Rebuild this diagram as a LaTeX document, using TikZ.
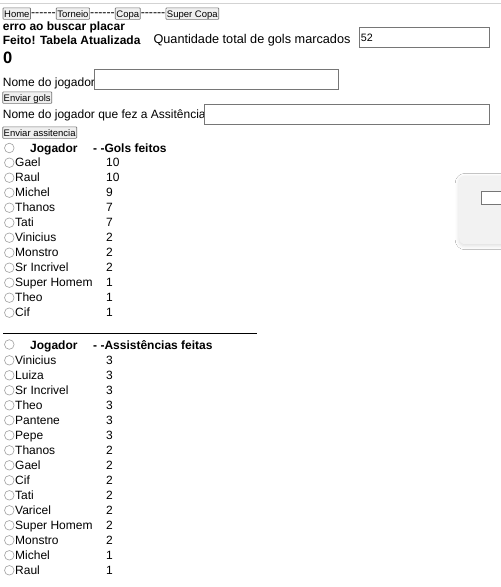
\documentclass[tikz,border=0pt]{standalone}
\usepackage{fontspec}
\setmainfont{Liberation Sans}
\usetikzlibrary{positioning,shadows.blur}

\definecolor{edgegray}{HTML}{767676}
\definecolor{btngray}{HTML}{EFEFEF}
\definecolor{rulegray}{HTML}{D3D3D3}
\definecolor{panelgray}{HTML}{F2F2F2}

\newcommand{\txtfont}{\fontsize{12}{15}\selectfont}
\newcommand{\btnfont}{\fontsize{9.5}{11}\selectfont}

\tikzset{
  txt/.style={anchor=base west, inner sep=0pt, font=\txtfont},
  boldtxt/.style={anchor=base west, inner sep=0pt, font=\txtfont\bfseries},
  btn/.style={draw=edgegray, fill=btngray, rounded corners=0.8pt, line width=0.7pt,
    inner xsep=1.1pt, inner ysep=0pt, text height=8.6pt, text depth=1.6pt,
    minimum height=11.5pt, font=\btnfont},
  dashes/.style={inner xsep=0pt, inner ysep=0pt, text height=8.2pt, text depth=2pt,
    minimum height=11.5pt, font=\fontsize{12.3}{15}\selectfont},
  field/.style={draw=edgegray, fill=white, anchor=north west, inner sep=0pt, line width=0.8pt},
  radio/.style={circle, draw=edgegray!70, fill=white, inner sep=0pt, minimum size=9.6pt, line width=0.6pt},
}

\begin{document}
\begin{tikzpicture}[x=1pt,y=-1pt]
\useasboundingbox (0,0) rectangle (501,587);
\fill[white] (0,0) rectangle (501,587);
% top rule and menu
\draw[rulegray, line width=1pt] (0,3) -- (501,3);
\node[btn, anchor=west] (home) at (2.7,13.6) {Home};
\node[dashes, right=0pt of home] (dA) {-{}-{}-{}-{}-{}-};
\node[btn, right=0pt of dA] (torneio) {Torneio};
\node[dashes, right=0pt of torneio] (dB) {-{}-{}-{}-{}-{}-};
\node[btn, right=0pt of dB] (copa) {Copa};
\node[dashes, right=0pt of copa] (dC) {-{}-{}-{}-{}-{}-};
\node[btn, right=0pt of dC] (supercopa) {Super Copa};
% status
\node[boldtxt] (erro) at (2.7,30) {erro ao buscar placar};
\node[boldtxt] (feito) at (2.7,44.5) {Feito! Tabela Atualizada};
\node[txt, font=\fontsize{12.7}{15}\selectfont] (qtd) at (153.3,43.7) {Quantidade total de gols marcados};
\node[field, minimum width=129.4pt, minimum height=19.7pt] (qtdBox) at (359.3,27.3) {};
\node[txt, font=\fontsize{10.7}{12}\selectfont] (qtdVal) at (360.6,41.6) {52};
\node[anchor=base west, inner sep=0pt, font=\fontsize{16.5}{19}\selectfont\bfseries] (zero) at (2.9,63.3) {0};
% forms
\node[txt] (nomeLbl) at (2.7,86) {Nome do jogador};
\node[field, minimum width=244pt, minimum height=20pt] (nomeBox) at (94.3,69.3) {};
\node[btn, anchor=north west] (enviarGols) at (2.3,91.5) {Enviar gols};
\node[txt] (assLbl) at (2.7,118.7) {Nome do jogador que fez a Assitência};
\node[field, minimum width=285pt, minimum height=20pt] (assBox) at (204,104.3) {};
\node[btn, anchor=north west] (enviarAss) at (2.3,126.5) {Enviar assitencia};
% gols table
\node[radio] (hg) at (9.3,148) {};
\node[boldtxt] (hgJog) at (30,152) {Jogador};
\node[boldtxt] (hgCol) at (93,152) {- -Gols feitos};
\foreach \nome/\val [count=\i from 0] in {Gael/10,Raul/10,Michel/9,Thanos/7,Tati/7,Vinicius/2,Monstro/2,Sr Incrivel/2,Super Homem/1,Theo/1,Cif/1}{
  \node[radio] (rg\i) at (9.3,162.7+15*\i) {};
  \node[txt] (ng\i) at (15,166.6+15*\i) {\nome};
  \node[txt] (vg\i) at (106,166.6+15*\i) {\val};
}
\coordinate (sepA) at (3,333.5);
\coordinate (sepB) at (256.5,333.5);
\draw[line width=0.9pt] (sepA) -- (sepB);
% assistencias table
\node[radio] (ha) at (9.3,344.5) {};
\node[boldtxt] (haJog) at (30,349) {Jogador};
\node[boldtxt] (haCol) at (93,349) {- -Assistências feitas};
\foreach \nome/\val [count=\i from 0] in {Vinicius/3,Luiza/3,Sr Incrivel/3,Theo/3,Pantene/3,Pepe/3,Thanos/2,Gael/2,Cif/2,Tati/2,Varicel/2,Super Homem/2,Monstro/2,Michel/1,Raul/1}{
  \node[radio] (ra\i) at (9.3,360.3+15*\i) {};
  \node[txt] (na\i) at (15,364.3+15*\i) {\nome};
  \node[txt] (va\i) at (106,364.3+15*\i) {\val};
}
% floating panel
\begin{scope}
\clip (0,0) rectangle (501,587);
\node[fill=panelgray, rounded corners=6pt, anchor=north west, minimum width=60pt, minimum height=68.3pt,
  blur shadow={shadow xshift=0pt, shadow yshift=-1.5pt, shadow blur radius=4pt, shadow opacity=15}] (panel) at (459,175.7) {};
\node[field, minimum width=30pt, minimum height=12.7pt] (panelBox) at (481.3,191) {};
\end{scope}
\end{tikzpicture}
\end{document}
